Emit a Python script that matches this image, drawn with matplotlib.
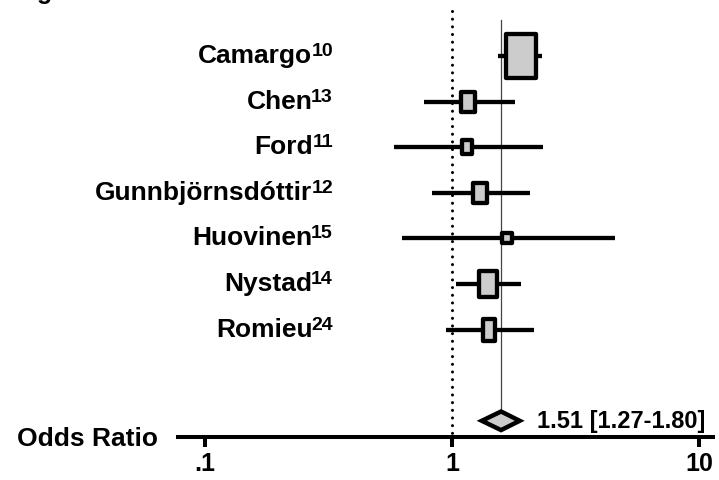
import numpy as np
import matplotlib
matplotlib.use('Agg')
import matplotlib.pyplot as plt
from matplotlib.path import Path
from matplotlib.markers import MarkerStyle
from matplotlib.patches import Polygon
from matplotlib.ticker import NullLocator
from matplotlib import transforms

plt.rcParams['font.family'] = ['Liberation Sans', 'DejaVu Sans']

# study data
studies = ['Camargo', 'Chen', 'Ford', 'Gunnbjörnsdóttir', 'Huovinen', 'Nystad', 'Romieu']
refs = ['10', '13', '11', '12', '15', '14', '24']
odds = [1.90, 1.16, 1.15, 1.30, 1.67, 1.40, 1.41]
ci_low = [1.53, 0.77, 0.58, 0.83, 0.63, 1.04, 0.95]
ci_high = [2.31, 1.80, 2.34, 2.06, 4.57, 1.90, 2.15]
# box size (weight), px width / height
box_w = [34, 18, 15, 18, 14, 23, 17]
box_h = [48, 24, 18, 24, 14, 31, 27]

pooled, pooled_lo, pooled_hi = 1.58, 1.32, 1.88
pooled_text = '1.51 [1.27-1.80]'

xticks = [0.1, 1, 10]
xticklabels = ['.1', '1', '10']

fig = plt.figure(figsize=(7.19, 4.81), dpi=100)
ax = fig.add_axes([0, 43 / 481, 1, 438 / 481])
ax.set_xscale('log')
dec = 247.0
ax.set_xlim(10 ** (-452 / dec), 10 ** (267 / dec))
row_px = 45.6
ax.set_ylim(381 / row_px, -57 / row_px)

rows = np.arange(len(studies))
pool_row = len(studies) + 1
edge = 4.3  # px

# reference line at 1 and pooled line
ax.plot([1, 1], [-0.99, 381 / row_px], color='black', lw=2.2,
        ls=(0, (0.01, 2.5)), dash_capstyle='round', zorder=1)
ax.plot([pooled, pooled], [-0.79, pool_row - 0.2], color='#444444', lw=0.9, zorder=1)

for i, r in enumerate(rows):
    ax.plot([ci_low[i], ci_high[i]], [r, r], color='black', lw=3.1,
            solid_capstyle='butt', zorder=2)
    w = box_w[i] - edge
    h = box_h[i] - edge
    a = w / h
    verts = [(-a, -1), (a, -1), (a, 1), (-a, 1), (-a, -1)]
    mk = MarkerStyle(Path(verts, closed=True), joinstyle='miter')
    ax.plot(odds[i], r, marker=mk, ms=h * 0.72, mfc='#cccccc', mec='black',
            mew=3.1, ls='none', zorder=3)

hh = 9.3 / row_px
diamond = Polygon([(pooled_lo, pool_row), (pooled, pool_row - hh),
                   (pooled_hi, pool_row), (pooled, pool_row + hh)],
                  closed=True, fc='#cccccc', ec='black', lw=3.2, joinstyle='miter', zorder=3)
ax.add_patch(diamond)
ax.text(537 / 719, pool_row, pooled_text, transform=ax.get_yaxis_transform(),
        fontsize=17, fontweight='bold', va='center', ha='left')

# study labels with superscript references
label_x = 333 / 719
base = ax.get_yaxis_transform()
sup_tr = transforms.offset_copy(base, fig=fig, x=0, y=1, units='dots')
for i, r in enumerate(rows):
    s = ax.text(label_x, r, refs[i], transform=sup_tr, ha='right', va='baseline',
                fontsize=14, fontweight='bold')
    ax.annotate(studies[i], xy=(0, 0), xycoords=s, xytext=(1, -3),
                textcoords='offset pixels', ha='right', va='baseline',
                fontsize=19, fontweight='bold')

# axis
for side in ['top', 'right', 'left']:
    ax.spines[side].set_visible(False)
ax.spines['bottom'].set_linewidth(2.9)
ax.spines['bottom'].set_bounds(10 ** ((178 - 452) / dec), 10 ** ((713 - 452) / dec))
ax.set_xticks(xticks, xticklabels)
ax.xaxis.set_minor_locator(NullLocator())
ax.set_yticks([])
ax.tick_params(axis='x', length=7.2, width=2.9, labelsize=18, pad=3, direction='out')
for t in ax.get_xticklabels():
    t.set_fontweight('bold')
ax.patch.set_visible(False)

fig.text(17 / 719, (481 - 446) / 481, 'Odds Ratio', fontsize=19, fontweight='bold', va='baseline')
fig.text(37 / 719, 1 + 1 / 481, 'g', fontsize=18, fontweight='bold', va='baseline')

fig.savefig('out.png', dpi=100)
